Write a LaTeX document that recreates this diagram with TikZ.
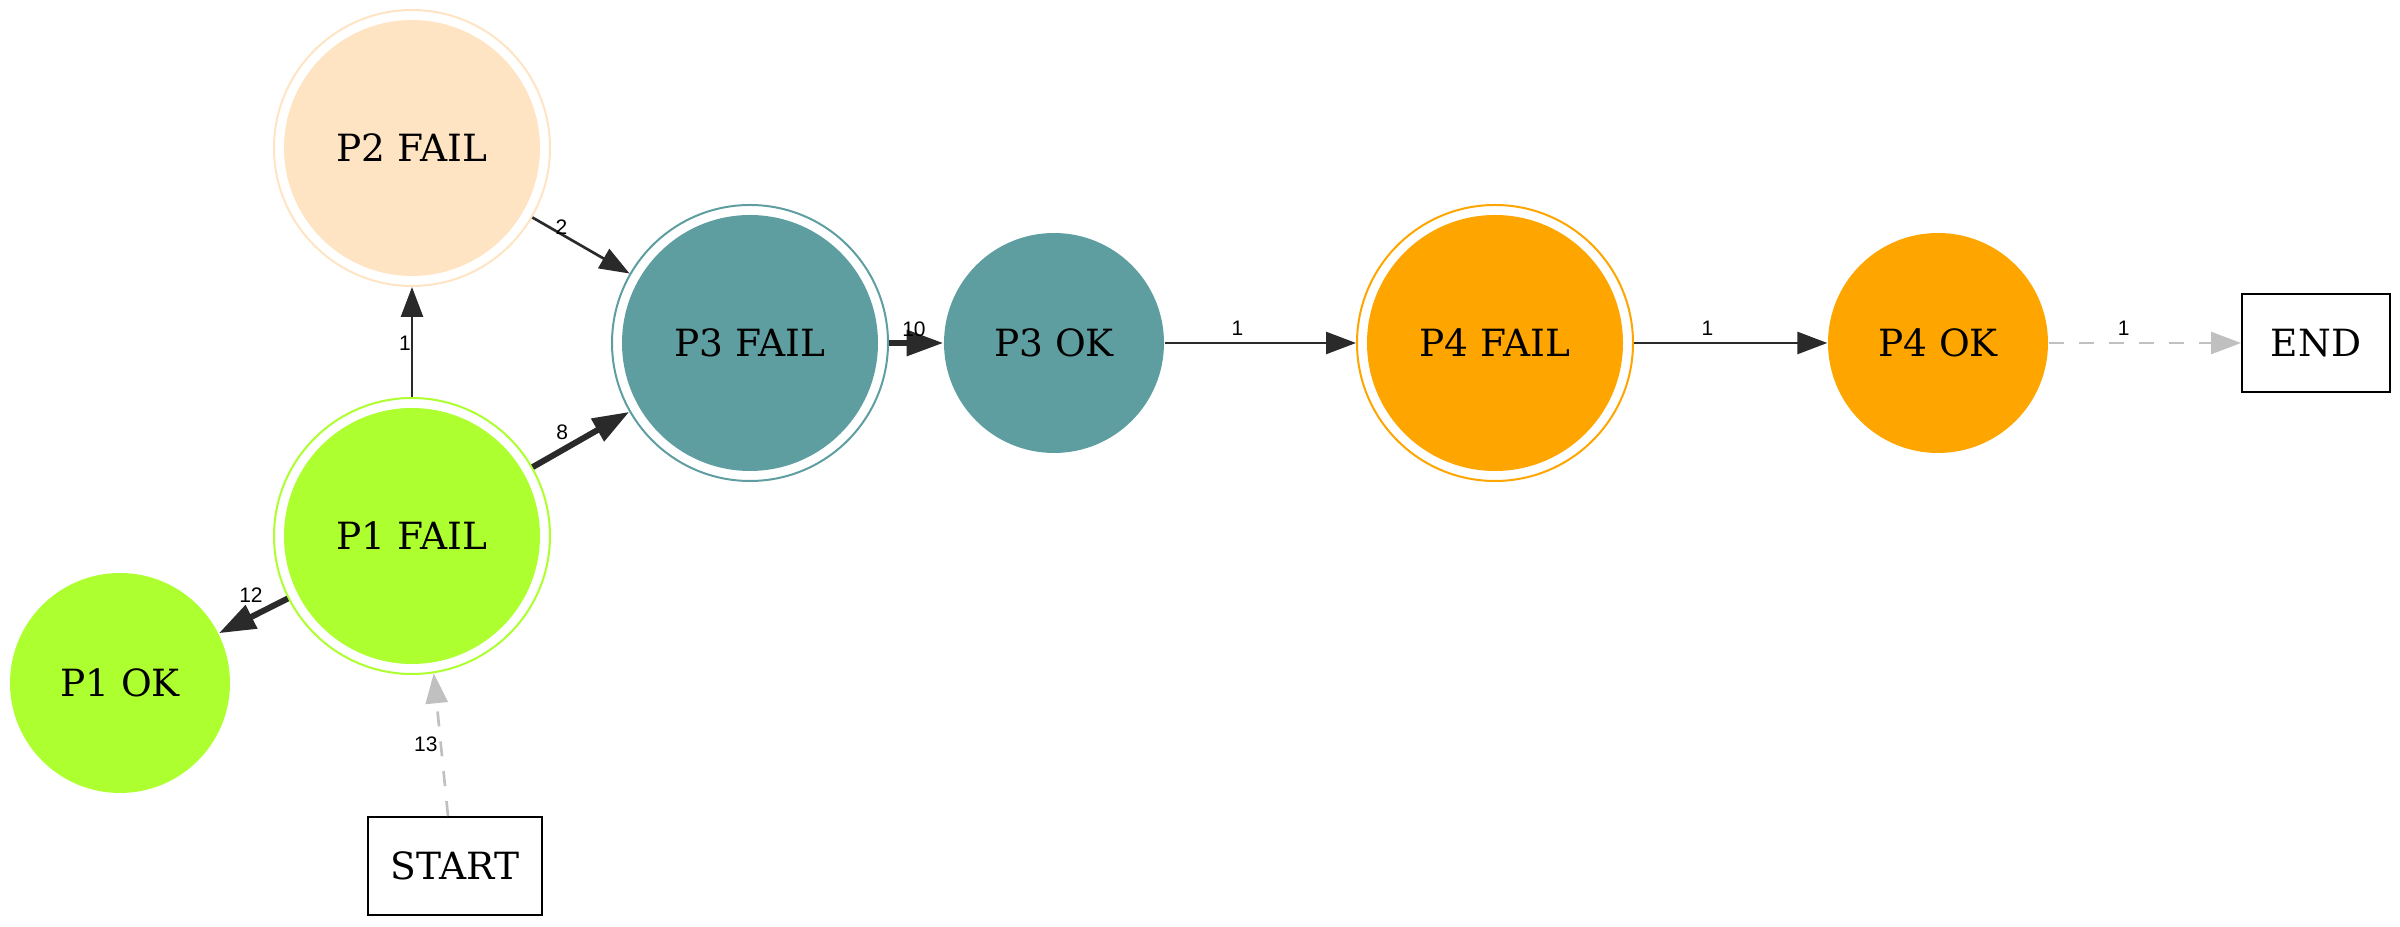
\documentclass[tikz,border=0pt]{standalone}
\usepackage{fontspec}
\setmainfont{DejaVu Serif}
\newfontfamily\lblfont{Liberation Sans}
\usetikzlibrary{arrows.meta}

\definecolor{pgreen}{HTML}{ADFF2F}
\definecolor{pbisque}{HTML}{FFE4C4}
\definecolor{pteal}{HTML}{5F9EA0}
\definecolor{porange}{HTML}{FFA500}
\definecolor{edgecol}{HTML}{2A2A2A}
\definecolor{ghostcol}{HTML}{C0C0C0}

\tikzset{
  state/.style={circle, inner sep=0pt, minimum size=66pt,
    font=\fontsize{11.25}{13}\selectfont},
  okstate/.style={state, fill=#1},
  failstate/.style={state, minimum size=82.8pt, draw=#1, line width=0.6pt,
    path picture={\fill[#1] (path picture bounding box.center) circle (38.4pt);}},
  termbox/.style={rectangle, draw=black, line width=0.6pt, inner sep=0pt,
    minimum height=29.4pt, font=\fontsize{11.25}{13}\selectfont},
  lbl/.style={font=\lblfont\fontsize{6.3}{7}\selectfont, inner sep=0pt, text=black},
  thinedge/.style={draw=edgecol, line width=0.8pt,
    -{Triangle[length=9pt,width=6.6pt]}},
  thickedge/.style={draw=edgecol, line width=1.8pt,
    -{Triangle[length=11pt,width=7.5pt]}},
  ghostedge/.style={draw=ghostcol, line width=0.8pt, dash pattern=on 4.5pt off 4.5pt,
    -{Triangle[length=9pt,width=6.6pt]}},
}

\begin{document}
\begin{tikzpicture}[x=0.3pt,y=-0.3pt]
\useasboundingbox (0,0) rectangle (2400,927);

% states
\node[failstate=pbisque] (P2F) at (412,148) {P2 FAIL};
\node[failstate=pgreen]  (P1F) at (412,536) {P1 FAIL};
\node[okstate=pgreen]    (P1OK) at (120,683) {P1 OK};
\node[failstate=pteal]   (P3F) at (750,343) {P3 FAIL};
\node[okstate=pteal]     (P3OK) at (1054,343) {P3 OK};
\node[failstate=porange] (P4F) at (1495,343) {P4 FAIL};
\node[okstate=porange]   (P4OK) at (1938,343) {P4 OK};

% terminals
\node[termbox, minimum width=44.4pt] (END) at (2316,343) {END};
\node[termbox, minimum width=52.2pt] (START) at (455,866) {START};

% transitions
\draw[thinedge]  (P1F) -- node[lbl, pos=0.49, xshift=-2.1pt] {1} (P2F);
\draw[thinedge]  (P2F) -- node[lbl, pos=0.30, yshift=2.1pt] {2} (P3F);
\draw[thickedge] (P1F) -- node[lbl, pos=0.306, yshift=5.3pt] {8} (P3F);
\draw[thickedge] (P3F) -- node[lbl, pos=0.46, yshift=4.2pt] {10} (P3OK);
\draw[thinedge]  (P3OK) -- node[lbl, pos=0.38, yshift=4.4pt] {1} (P4F);
\draw[thinedge]  (P4F) -- node[lbl, pos=0.38, yshift=4.4pt] {1} (P4OK);
\draw[ghostedge] (P4OK) -- node[lbl, pos=0.39, yshift=4.4pt] {1} (END);
\draw[thickedge] (P1F) -- node[lbl, pos=0.535, yshift=6.6pt] {12} (P1OK);
\draw[ghostedge] ([xshift=-2.1pt]START.north) -- node[lbl, pos=0.5, xshift=-4.5pt] {13} (P1F.-81);
\end{tikzpicture}
\end{document}
